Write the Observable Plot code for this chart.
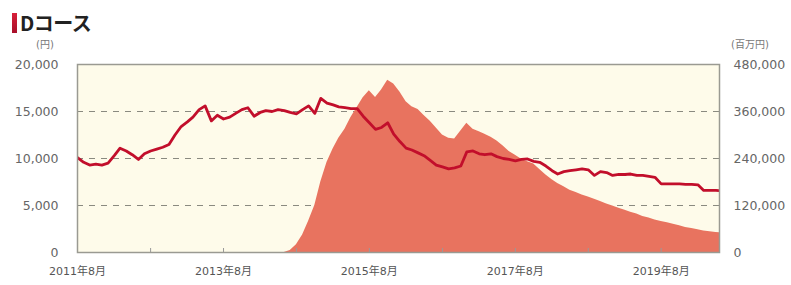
<!DOCTYPE html>
<html><head><meta charset="utf-8">
<script src="https://cdn.jsdelivr.net/npm/d3@7"></script>
<script src="https://cdn.jsdelivr.net/npm/@observablehq/plot@0.6"></script>
<style>
body{margin:0;background:#fff;}
#wrap{position:relative;width:791px;height:285px;overflow:hidden;}
#bar{position:absolute;left:12px;top:13px;width:5px;height:20px;background:linear-gradient(#d8203a,#a8102a);}
#title{position:absolute;left:20px;top:12px;font:bold 20px/22px "Noto Sans CJK JP";color:#222;letter-spacing:-0.5px;}
.unit{position:absolute;top:39px;font:10px/12px "DejaVu Sans","Noto Sans CJK JP";color:#777;}
#chart{position:absolute;left:0;top:36px;}
</style></head><body>
<div id="wrap">
  <div id="bar"></div>
  <div id="title">Dコース</div>
  <div class="unit" style="left:36px">(円)</div>
  <div class="unit" style="left:731px">(百万円)</div>
  <div id="chart"></div>
</div>
<script>
// Monthly data, starting 2011年8月
const startMonth = "2011-08-01";
// 基準価額 (円), left axis
const navValues = [
  10100, 9600, 9300, 9400, 9300, 9500, 10300, 11100, 10800, 10400,
  9900, 10500, 10800, 11000, 11200, 11500, 12500, 13400, 13900, 14400,
  15200, 15600, 14000, 14600, 14200, 14400, 14800, 15200, 15400, 14500,
  14900, 15100, 15000, 15200, 15100, 14900, 14750, 15200, 15600, 14800,
  16400, 15900, 15700, 15500, 15400, 15300, 15300, 14500, 13800, 13100,
  13300, 13800, 12600, 11800, 11100, 10900, 10600, 10300, 9800, 9300,
  9100, 8900, 9000, 9200, 10700, 10800, 10500, 10400, 10500, 10200,
  10000, 9900, 9750, 9900, 9950, 9700, 9600, 9200, 8700, 8350,
  8600, 8700, 8800, 8900, 8800, 8200, 8600, 8500, 8200, 8300,
  8300, 8350, 8200, 8200, 8100, 8000, 7300, 7300, 7300, 7300,
  7250, 7250, 7200, 6600, 6600, 6600, 6550
];
// 純資産総額 (百万円), right axis, starting at month index 34 (2014年6月)
const assetStartIndex = 34;
const assetValues = [
  0, 5000, 20000, 45000, 80000, 120000, 180000, 230000, 265000, 292000,
  315000, 345000, 370000, 395000, 413000, 396000, 415000, 440000, 430000, 410000,
  385000, 372000, 365000, 350000, 335000, 318000, 300000, 292000, 290000, 310000,
  330000, 315000, 308000, 302000, 294000, 285000, 272000, 258000, 248000, 238000,
  232000, 226000, 212000, 198000, 186000, 176000, 168000, 159000, 153000, 147000,
  142000, 136000, 130000, 124000, 119000, 113000, 108000, 103000, 98000, 92000,
  88000, 83000, 79000, 76000, 72000, 68000, 64000, 61000, 58000, 55000,
  53000, 51000, 50000
];
const leftTicks = [0, 5000, 10000, 15000, 20000];
const rightTickLabels = ["0", "120,000", "240,000", "360,000", "480,000"];
const rightMax = 480000;
const gridValues = [5000, 10000, 15000];
const xLabelMonths = ["2011-08-01", "2013-08-01", "2015-08-01", "2017-08-01", "2019-08-01"];
const minorTickMonths = ["2012-08-01", "2013-08-01", "2014-08-01", "2015-08-01", "2016-08-01", "2017-08-01", "2018-08-01", "2019-08-01"];

const start = new Date(startMonth);
const navData = navValues.map((v, i) => ({date: d3.utcMonth.offset(start, i), v}));
const assetData = assetValues.map((v, i) => ({date: d3.utcMonth.offset(start, assetStartIndex + i), v}));
const ratio = rightMax / leftTicks[leftTicks.length - 1];
const xEnd = d3.utcDay.offset(d3.utcMonth.offset(start, 105), 18);
const fmt = d3.format(",");

const chart = Plot.plot({
  width: 791, height: 249,
  marginLeft: 77, marginRight: 72, marginTop: 28, marginBottom: 33,
  style: {fontFamily: '"DejaVu Sans","Noto Sans CJK JP",sans-serif', background: "transparent"},
  x: {type: "utc", domain: [start, xEnd], label: null},
  y: {domain: [0, 20000], label: null},
  marks: [
    Plot.frame({fill: "#fefbea", stroke: null}),
    Plot.ruleY(gridValues, {stroke: "#8a8a80", strokeDasharray: "6,6", strokeWidth: 1}),
    Plot.areaY(assetData, {x: "date", y: d => d.v / ratio, fill: "#e8735f", clip: true}),
    Plot.lineY(navData, {x: "date", y: "v", stroke: "#c20e2b", strokeWidth: 2.8, clip: true}),
    Plot.ruleX(minorTickMonths.map(s => new Date(s)), {stroke: "#999", insetTop: 184}),
    Plot.frame({stroke: "#9a9a92", strokeWidth: 1.5}),
    Plot.axisY(leftTicks, {anchor: "left", label: null, tickSize: 0, tickPadding: 19, tickFormat: fmt, fontSize: 12.5, color: "#666"}),
    Plot.axisY(leftTicks, {anchor: "right", label: null, tickSize: 0, tickPadding: 14, tickFormat: d => rightTickLabels[leftTicks.indexOf(d)], fontSize: 12.5, color: "#666"}),
    Plot.axisX(xLabelMonths.map(s => new Date(s)), {label: null, tickSize: 0, tickPadding: 15, fontSize: 11, color: "#555",
      tickFormat: d => `${d.getUTCFullYear()}年${d.getUTCMonth() + 1}月`})
  ]
});
document.getElementById("chart").appendChild(chart);
</script>
</body></html>
